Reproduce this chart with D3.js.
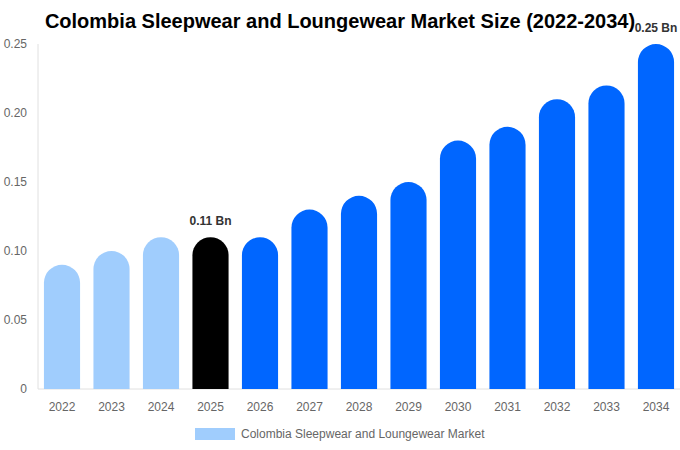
<!DOCTYPE html>
<html>
<head>
<meta charset="utf-8">
<script src="https://cdn.jsdelivr.net/npm/d3@7"></script>
<style>
  body { margin: 0; background: #fff; }
  text { font-family: "Liberation Sans", Arial, sans-serif; }
</style>
</head>
<body>
<div id="chart"></div>
<script>
const years = ["2022","2023","2024","2025","2026","2027","2028","2029","2030","2031","2032","2033","2034"];
const values = [0.09, 0.10, 0.11, 0.11, 0.11, 0.13, 0.14, 0.15, 0.18, 0.19, 0.21, 0.22, 0.25];
const barColors = ["#a0cdfd","#a0cdfd","#a0cdfd","#000000","#0066ff","#0066ff","#0066ff","#0066ff","#0066ff","#0066ff","#0066ff","#0066ff","#0066ff"];
const yTicks = [0, 0.05, 0.10, 0.15, 0.20, 0.25];
const labelled = { "2025": "0.11 Bn", "2034": "0.25 Bn" };
const seriesName = "Colombia Sleepwear and Loungewear Market";

const width = 680, height = 450;
const margin = { top: 44, right: 0, bottom: 61, left: 38 };

const svg = d3.select("#chart").append("svg")
  .attr("width", width)
  .attr("height", height);

const x = d3.scaleBand()
  .domain(years)
  .range([margin.left, width - margin.right])
  .paddingInner(0.27)
  .paddingOuter(0.12);

const y = d3.scaleLinear()
  .domain([0, 0.25])
  .range([height - margin.bottom, margin.top]);

// title
svg.append("text")
  .attr("x", 340)
  .attr("y", 28)
  .attr("text-anchor", "middle")
  .style("font-size", "20px")
  .style("font-weight", "bold")
  .attr("fill", "#000")
  .text("Colombia Sleepwear and Loungewear Market Size (2022-2034)");

// axes lines
svg.append("line")
  .attr("x1", margin.left).attr("x2", margin.left)
  .attr("y1", margin.top).attr("y2", y(0))
  .attr("stroke", "#e0e0e0");
svg.append("line")
  .attr("x1", margin.left).attr("x2", width)
  .attr("y1", y(0)).attr("y2", y(0))
  .attr("stroke", "#e0e0e0");

// y tick labels
svg.selectAll(".ytick")
  .data(yTicks)
  .join("text")
  .attr("class", "ytick")
  .attr("x", 27)
  .attr("y", d => y(d))
  .attr("dy", "0.35em")
  .attr("text-anchor", "end")
  .attr("fill", "#666")
  .style("font-size", "12px")
  .text(d => d === 0 ? "0" : d.toFixed(2));

// x tick labels
svg.selectAll(".xtick")
  .data(years)
  .join("text")
  .attr("class", "xtick")
  .attr("x", d => x(d) + x.bandwidth() / 2)
  .attr("y", y(0) + 22)
  .attr("text-anchor", "middle")
  .attr("fill", "#666")
  .style("font-size", "12px")
  .text(d => d);

// bars with rounded tops
const r = x.bandwidth() / 2;
function barPath(d, i) {
  const x0 = x(years[i]), w = x.bandwidth();
  const top = y(d), bottom = y(0);
  return `M${x0},${bottom} L${x0},${top + r} A${r},${r} 0 0 1 ${x0 + w},${top + r} L${x0 + w},${bottom} Z`;
}
svg.selectAll(".bar")
  .data(values)
  .join("path")
  .attr("class", "bar")
  .attr("d", barPath)
  .attr("fill", (d, i) => barColors[i]);

// value labels
svg.selectAll(".vlabel")
  .data(years.filter(yr => labelled[yr]))
  .join("text")
  .attr("class", "vlabel")
  .attr("x", d => x(d) + x.bandwidth() / 2)
  .attr("y", d => y(values[years.indexOf(d)]) - 12)
  .attr("text-anchor", "middle")
  .attr("fill", "#333")
  .style("font-size", "12px")
  .style("font-weight", "bold")
  .text(d => labelled[d]);

// legend
svg.append("rect")
  .attr("x", 195).attr("y", 428)
  .attr("width", 40).attr("height", 12)
  .attr("fill", barColors[0]);
svg.append("text")
  .attr("x", 241).attr("y", 434)
  .attr("dy", "0.35em")
  .attr("fill", "#666")
  .style("font-size", "12px")
  .text(seriesName);
</script>
</body>
</html>
